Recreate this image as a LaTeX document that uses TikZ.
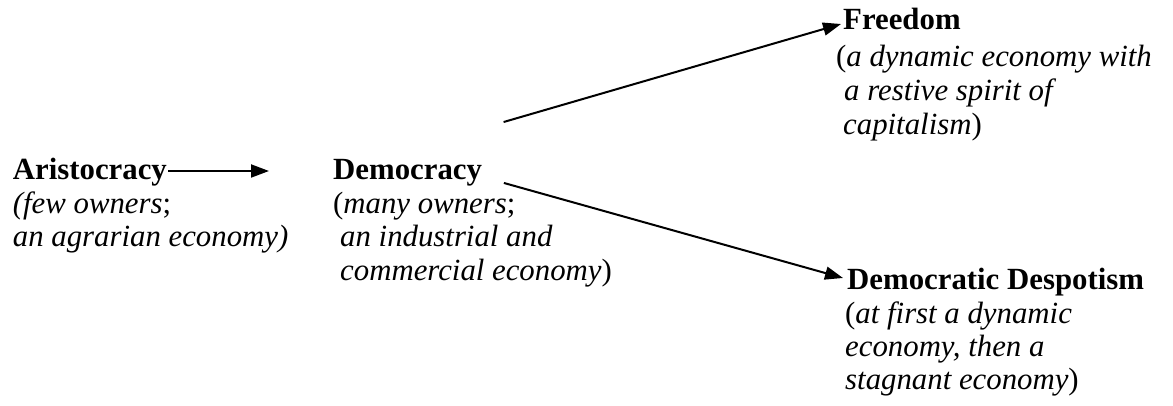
\documentclass[tikz,border=0pt]{standalone}
\usepackage{fontspec}
\setmainfont{Liberation Serif}
\usetikzlibrary{arrows.meta,calc}
\begin{document}
\begin{tikzpicture}[x=1pt,y=-1pt,
  every node/.style={inner sep=0pt,anchor=base west,font=\fontsize{30.8}{33}\selectfont},
  ttl/.style={font=\fontsize{30.8}{33}\selectfont\bfseries},
  arr/.style={line width=2pt,-{Triangle[length=18pt,width=13pt]}}]
\useasboundingbox (0,0) rectangle (1173,406);
% titles
\node[ttl] (aris) at (12.7,180) {Aristocracy};
\node[ttl] (dem) at (333,180) {Democracy};
\node[ttl] (free) at (843,30) {Freedom};
\node[ttl] (desp) at (847,290) {Democratic Despotism};
% captions
\node (a1) at (12.7,214) {\textit{(few owners};};
\node (a2) at (12.7,247) {\textit{an agrarian economy)}};
\node (d1) at (333,214) {(\textit{many owners};};
\node (d2) at (340,247) {\textit{an industrial and}};
\node (d3) at (340,280) {\textit{commercial economy})};
\node (f1) at (836,67) {(\textit{a dynamic economy with}};
\node (f2) at (844,101) {\textit{a restive spirit of}};
\node (f3) at (843,135) {\textit{capitalism})};
\node (e1) at (845,323) {(\textit{at first a dynamic}};
\node (e2) at (845,356) {\textit{economy, then a}};
\node (e3) at (845,389) {\textit{stagnant economy})};
% connectors
\coordinate (hub) at ($(dem.base west)+(64,-27)$);
\draw[arr] ($(aris.base east)+(1,-9)$) -- ($(dem.base west)+(-64,-9)$);
\draw[arr,shorten <=111pt] (hub) -- ($(free.base west)+(-2,-6)$);
\draw[arr,shorten <=111pt] (hub) -- ($(desp.base west)+(-4,-12)$);
\end{tikzpicture}
\end{document}
